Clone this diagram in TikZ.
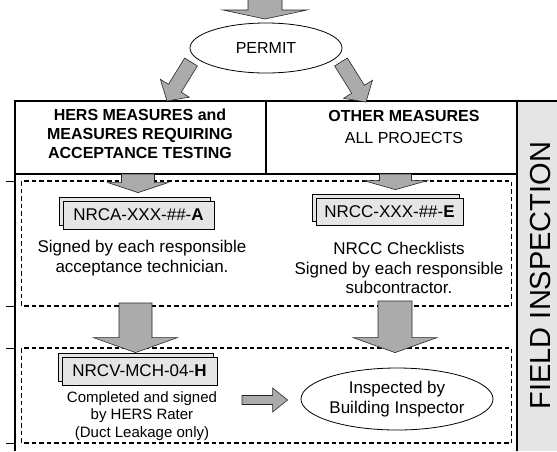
\documentclass[tikz,border=0pt]{standalone}
\usepackage{fontspec}
\setmainfont{Liberation Sans}
\usetikzlibrary{shapes,calc,shadows,positioning}

% block arrow: tail, tip, shaft half width, head half width, head length
\newcommand{\fatarrow}[5]{%
  \path ($(#2)!#5!(#1)$) coordinate (fh);
  \draw[fat] ($(#1)!#3!90:(#2)$) -- ($(fh)!#3!90:(#2)$) -- ($(fh)!#4!90:(#2)$)
    -- (#2) -- ($(fh)!#4!-90:(#2)$) -- ($(fh)!#3!-90:(#2)$) -- ($(#1)!#3!-90:(#2)$) -- cycle;
}

\begin{document}
\begin{tikzpicture}[
  x=1pt, y=-1pt,
  every node/.style={align=center, inner sep=0pt},
  txt/.style={font=\fontsize{17}{19.5}\selectfont},
  small/.style={font=\fontsize{15}{17.5}\selectfont},
  head/.style={font=\fontsize{16}{19}\selectfont},
  headbf/.style={font=\fontsize{16}{19}\selectfont\bfseries},
  form/.style={rectangle, draw, line width=0.8pt, fill=black!10, txt,
      minimum height=28pt, copy shadow={shadow xshift=-3.5pt, shadow yshift=3.5pt}},
  oval/.style={ellipse, draw, line width=0.8pt},
  fat/.style={fill=black!33, draw=black!85, line width=0.6pt},
  frame/.style={line width=1.2pt},
  box/.style={dash pattern=on 4.5pt off 3pt, line width=1.1pt}
]

  \useasboundingbox (0,0) rectangle (557,451);

  % Frame
  \fill[black!10] (517,101) rectangle (557,451);
  \draw[frame] (15,451) -- (15,101) -- (557,101);
  \draw[frame] (517,101) -- (517,451);
  \draw[frame] (15,174) -- (517,174);
  \draw[frame] (266,101) -- (266,174);
  \foreach \y in {181,306,348,443}
    \draw[line width=0.8pt] (6,\y) -- (15,\y);

  \draw[box] (21.5,181) rectangle (511.5,306);
  \draw[box] (21.5,348) rectangle (511.5,443);

  % Nodes
  \node[oval, head, minimum width=152pt, minimum height=50pt] (PER) at (266,48) {PERMIT};
  \node[headbf] (HERS) at (140,134)
    {HERS MEASURES and\\MEASURES REQUIRING\\ACCEPTANCE TESTING};
  \node[head] (OTH) at (404,127) {\textbf{OTHER MEASURES}\\[3pt]ALL PROJECTS};

  \node[form, minimum width=151pt] (NRCA) at (138.5,215) {NRCA-XXX-\#\#-\textbf{A}};
  \node[form, minimum width=147pt, minimum height=27pt] (NRCC) at (389.5,211.5) {NRCC-XXX-\#\#-\textbf{E}};
  \node[form, minimum width=155pt] (NRCV) at (139.5,371) {NRCV-MCH-04-\textbf{H}};

  \node[txt] (SA) at (142,258) {Signed by each responsible\\acceptance technician.};
  \node[txt] (SC) at (399,268) {NRCC Checklists\\Signed by each responsible\\subcontractor.};
  \node[small] (SV) at (142,416) {Completed and signed\\by HERS Rater\\(Duct Leakage only)};
  \node[oval, txt, minimum width=192pt, minimum height=62pt] (INSP) at (397,399)
    {Inspected by\\Building Inspector};

  \node[rotate=90, font=\fontsize{29}{29}\selectfont] (FI) at (540.5,275.5) {FIELD INSPECTION};

  % Arrows
  \coordinate (in0) at (265,-1);
  \coordinate (in1) at (265,19);
  \coordinate (pl0) at (191,62);
  \coordinate (pl1) at (167,101);
  \coordinate (pr0) at (341,62);
  \coordinate (pr1) at (366,102);
  \coordinate (da0) at (138,174);
  \coordinate (da1) at ($(NRCA.north)+(-0.5,-8)$);
  \coordinate (dc0) at (395.5,174);
  \coordinate (dc1) at ($(NRCC.north)+(6,-8)$);
  \coordinate (ba0) at (135.5,303);
  \coordinate (ba1) at ($(NRCV.north)+(-4,-4)$);
  \coordinate (bc0) at (395,301);
  \coordinate (bc1) at ($(INSP.north)+(-2,-15)$);
  \coordinate (h0) at (242,400);
  \coordinate (h1) at ($(INSP.west)+(-13,1)$);

  \fatarrow{in0}{in1}{17pt}{42pt}{9pt}
  \fatarrow{pl0}{pl1}{7.5pt}{17pt}{15pt}
  \fatarrow{pr0}{pr1}{7.5pt}{17pt}{15pt}
  \fatarrow{da0}{da1}{16.5pt}{30pt}{10pt}
  \fatarrow{dc0}{dc1}{16pt}{32pt}{9pt}
  \fatarrow{ba0}{ba1}{16.5pt}{42pt}{15pt}
  \fatarrow{bc0}{bc1}{17pt}{42pt}{15pt}
  \fatarrow{h0}{h1}{4.5pt}{12pt}{15pt}

\end{tikzpicture}
\end{document}
